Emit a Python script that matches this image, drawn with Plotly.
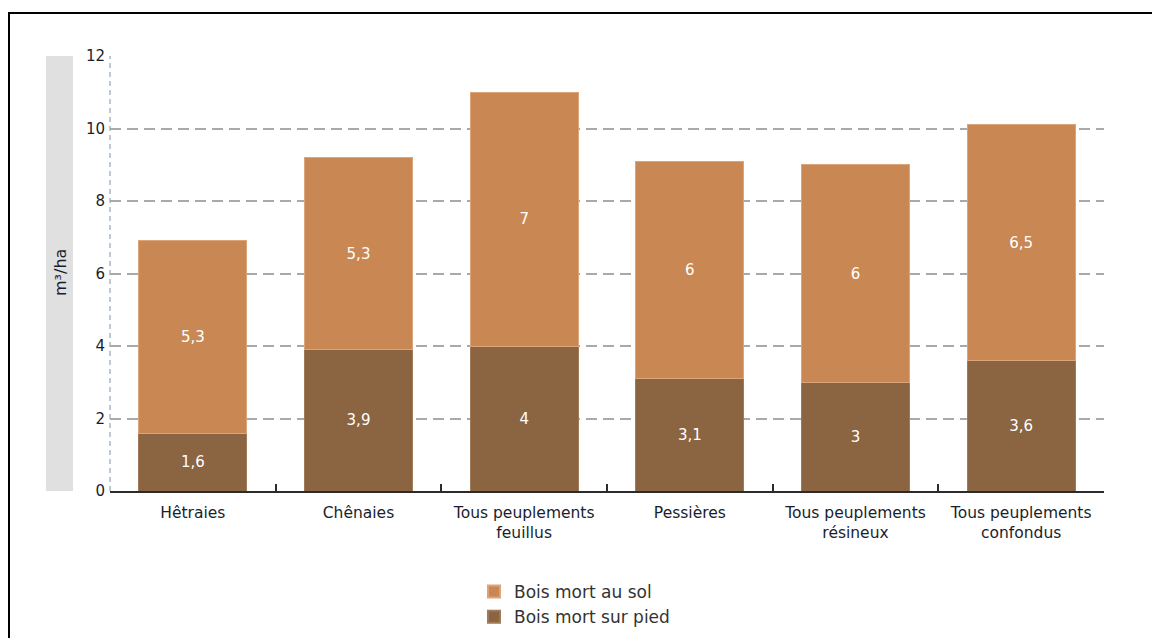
import plotly.graph_objects as go

categories = ["Hêtraies", "Chênaies", "Tous peuplements<br>feuillus", "Pessières",
              "Tous peuplements<br>résineux", "Tous peuplements<br>confondus"]
sur_pied = [1.6, 3.9, 4, 3.1, 3, 3.6]
au_sol = [5.3, 5.3, 7, 6, 6, 6.5]
y_ticks = [0, 2, 4, 6, 8, 10, 12]

def fr(v):
    return f"{v:g}".replace(".", ",")

FONT = "DejaVu Sans"
TXT = "#1a1e2c"
W, H = 1152, 638
L, R, T, B = 110, 48, 56, 147
pw, ph = W - L - R, H - T - B

def px(x):
    return (x - L) / pw

def py(y):
    return (H - B - y) / ph

fig = go.Figure()
fig.add_trace(go.Bar(
    x=categories, y=sur_pied, name="Bois mort sur pied",
    marker=dict(color="#8b6441", line=dict(width=1, color="#a07a58")),
    text=[fr(v) for v in sur_pied], textposition="inside",
    insidetextanchor="middle", textangle=0,
    textfont=dict(color="white", size=15, family=FONT),
))
fig.add_trace(go.Bar(
    x=categories, y=au_sol, name="Bois mort au sol",
    marker=dict(color="#c98753", line=dict(width=1, color="#dba47a")),
    text=[fr(v) for v in au_sol], textposition="inside",
    insidetextanchor="middle", textangle=0,
    textfont=dict(color="white", size=15, family=FONT),
))

shapes = [
    dict(type="rect", xref="paper", yref="paper", x0=px(46), x1=px(73), y0=py(491), y1=py(56),
         fillcolor="#e0e0e0", line=dict(width=0), layer="below"),
    dict(type="line", xref="paper", yref="paper", x0=0, x1=0, y0=0, y1=1,
         line=dict(color="#a8b6c3", width=1.5, dash="5px,4px"), layer="below"),
    dict(type="line", xref="paper", yref="paper", x0=px(9), x1=px(1152), y0=py(13), y1=py(13),
         line=dict(color="black", width=2)),
    dict(type="line", xref="paper", yref="paper", x0=px(9), x1=px(9), y0=py(12), y1=py(640),
         line=dict(color="black", width=2)),
]

fig.update_layout(
    width=W, height=H,
    margin=dict(l=L, r=R, t=T, b=B, pad=0, autoexpand=False),
    barmode="stack", bargap=0.35,
    plot_bgcolor="white", paper_bgcolor="white",
    font=dict(family=FONT, color=TXT, size=15),
    showlegend=True,
    legend=dict(orientation="v", xref="container", yref="container",
                x=474 / W, xanchor="left", y=1 - 574 / H, yanchor="top",
                traceorder="reversed", font=dict(size=17, color="#333333", family=FONT),
                itemsizing="constant", tracegroupgap=0),
    xaxis=dict(
        showline=True, linecolor="#2b2b2b", linewidth=2,
        ticks="inside", tickson="boundaries", ticklen=7, tickcolor="#2b2b2b", tickwidth=1.5,
        showgrid=False, ticklabelstandoff=6,
        tickfont=dict(size=15.5, color=TXT, family=FONT),
    ),
    yaxis=dict(
        range=[0, 12], tickvals=y_ticks, ticktext=[str(v) for v in y_ticks],
        showgrid=True, gridcolor="#a9a9a9", gridwidth=1.5, griddash="11px,6px",
        zeroline=False, showline=False, ticks="", ticklabelstandoff=4,
        tickfont=dict(size=15, color=TXT, family=FONT),
    ),
    shapes=shapes,
    annotations=[dict(text="m³/ha", xref="paper", yref="paper", x=px(60), y=py(273),
                      textangle=-90, showarrow=False, xanchor="center", yanchor="middle",
                      font=dict(size=16, color=TXT, family=FONT))],
)

fig.write_html("out.html", config={"displayModeBar": False})
